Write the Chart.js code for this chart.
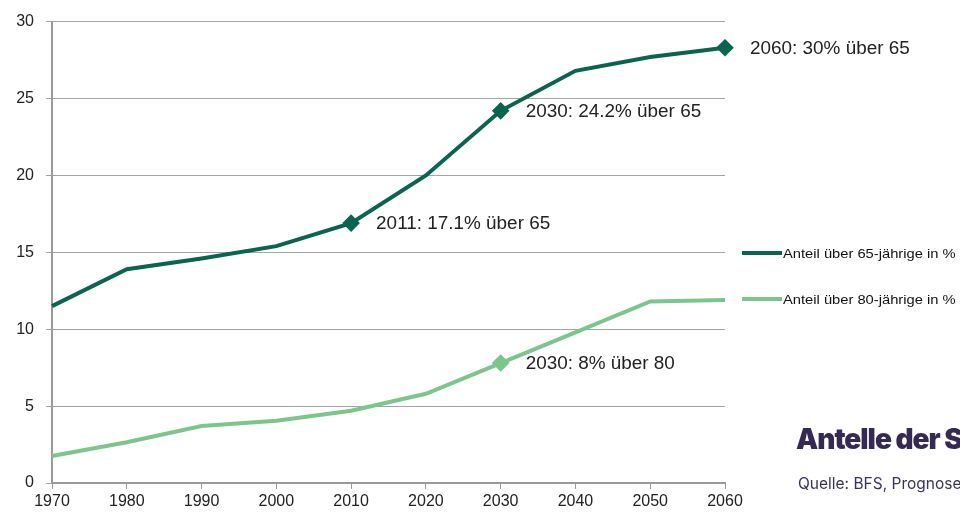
<!DOCTYPE html>
<html>
<head>
<meta charset="utf-8">
<script src="https://cdn.jsdelivr.net/npm/chart.js@4/dist/chart.umd.min.js"></script>
<style>
    html, body { margin: 0; padding: 0; width: 960px; height: 515px; overflow: hidden; background: #fff; }
    #wrap { position: relative; width: 960px; height: 515px; }
    #title { position: absolute; left: 796px; top: 422px; white-space: nowrap; font-family: Inter, sans-serif; font-weight: 900; font-size: 28px; letter-spacing: -1px; color: #352a52; }
    #source { position: absolute; left: 798px; top: 474px; white-space: nowrap; font-family: Inter, sans-serif; font-size: 15.5px; color: #3a3358; }
</style>
</head>
<body>
<div id="wrap">
    <canvas id="chart" width="960" height="515"></canvas>
    <div id="title">Antelle der Senioren</div>
    <div id="source">Quelle: BFS, Prognose</div>
</div>
<script>
// ===== DATA =====
const years = ['1970', '1980', '1990', '2000', '2010', '2020', '2030', '2040', '2050', '2060'];
const yTicks = [0, 5, 10, 15, 20, 25, 30];
const over65 = [11.5, 13.9, 14.6, 15.4, 16.9, 20.0, 24.2, 26.8, 27.7, 28.3];
const over80 = [1.75, 2.65, 3.7, 4.05, 4.7, 5.8, 7.8, 9.8, 11.8, 11.9];
const seriesNames = ['Anteil über 65-jährige in %', 'Anteil über 80-jährige in %'];

// markers (diamonds) and their notes: [series, year index, text]
const markers65 = [4, 6, 9];
const markers80 = [6];
const notes = [
    [0, 4, '2011: 17.1% über 65'],
    [0, 6, '2030: 24.2% über 65'],
    [0, 9, '2060: 30% über 65'],
    [1, 6, '2030: 8% über 80']
];

const colors = ['#0b6450', '#7cc68e'];
const FONT = '"Liberation Sans", Arial, sans-serif';

function markerRadius(list) {
    return years.map((_, i) => list.includes(i) ? 6 : 0);
}

// ===== PLUGINS =====
// text is a bit wider than normal in the reference, so stretch horizontally
function stretchedText(ctx, text, x, y, sx) {
    ctx.save();
    ctx.translate(x, y);
    ctx.scale(sx, 1);
    ctx.fillText(text, 0, 0);
    ctx.restore();
}

const notePlugin = {
    id: 'notes',
    afterDatasetsDraw(chart) {
        const ctx = chart.ctx;
        ctx.save();
        ctx.font = '17.5px ' + FONT;
        ctx.fillStyle = '#222';
        ctx.textBaseline = 'middle';
        notes.forEach(([ds, idx, text]) => {
            const pt = chart.getDatasetMeta(ds).data[idx];
            stretchedText(ctx, text, pt.x + 25, pt.y + 1, 1.08);
        });
        ctx.restore();
    }
};

const sideLegend = {
    id: 'sideLegend',
    afterDraw(chart) {
        const ctx = chart.ctx;
        const rows = [253, 299];
        ctx.save();
        ctx.font = '13.5px ' + FONT;
        ctx.textBaseline = 'middle';
        seriesNames.forEach((name, i) => {
            ctx.strokeStyle = colors[i];
            ctx.lineWidth = 4;
            ctx.beginPath();
            ctx.moveTo(742, rows[i]);
            ctx.lineTo(782, rows[i]);
            ctx.stroke();
            ctx.fillStyle = '#111';
            stretchedText(ctx, name, 783, rows[i] + 1, 1.09);
        });
        ctx.restore();
    }
};

// ===== CHART =====
const ctx = document.getElementById('chart').getContext('2d');
new Chart(ctx, {
    type: 'line',
    data: {
        labels: years,
        datasets: [{
            label: seriesNames[0],
            data: over65,
            borderColor: colors[0],
            backgroundColor: colors[0],
            borderWidth: 4,
            tension: 0,
            pointStyle: 'rectRot',
            pointRadius: markerRadius(markers65),
            pointHoverRadius: 0
        }, {
            label: seriesNames[1],
            data: over80,
            borderColor: colors[1],
            backgroundColor: colors[1],
            borderWidth: 4,
            tension: 0,
            pointStyle: 'rectRot',
            pointRadius: markerRadius(markers80),
            pointHoverRadius: 0
        }]
    },
    options: {
        responsive: false,
        animation: false,
        layout: { padding: { top: 18, right: 235, left: 0, bottom: 0 } },
        plugins: {
            legend: { display: false },
            tooltip: { enabled: false }
        },
        scales: {
            x: {
                offset: false,
                grid: { drawOnChartArea: false, drawTicks: true, tickLength: 6, color: '#9a9a9a' },
                border: { color: '#9a9a9a', width: 2 },
                ticks: { color: '#222', font: { family: FONT, size: 16 }, padding: 3, maxRotation: 0, autoSkip: false },
                afterFit: s => { s.height = 32; }
            },
            y: {
                min: 0,
                max: 30,
                afterBuildTicks: s => { s.ticks = yTicks.map(v => ({ value: v })); },
                grid: { color: '#a3a3a3', lineWidth: 1, tickLength: 6 },
                border: { color: '#9a9a9a', width: 2 },
                ticks: { color: '#222', font: { family: FONT, size: 16 }, padding: 12 },
                afterFit: s => { s.width = 52; }
            }
        }
    },
    plugins: [notePlugin, sideLegend]
});
</script>
</body>
</html>
